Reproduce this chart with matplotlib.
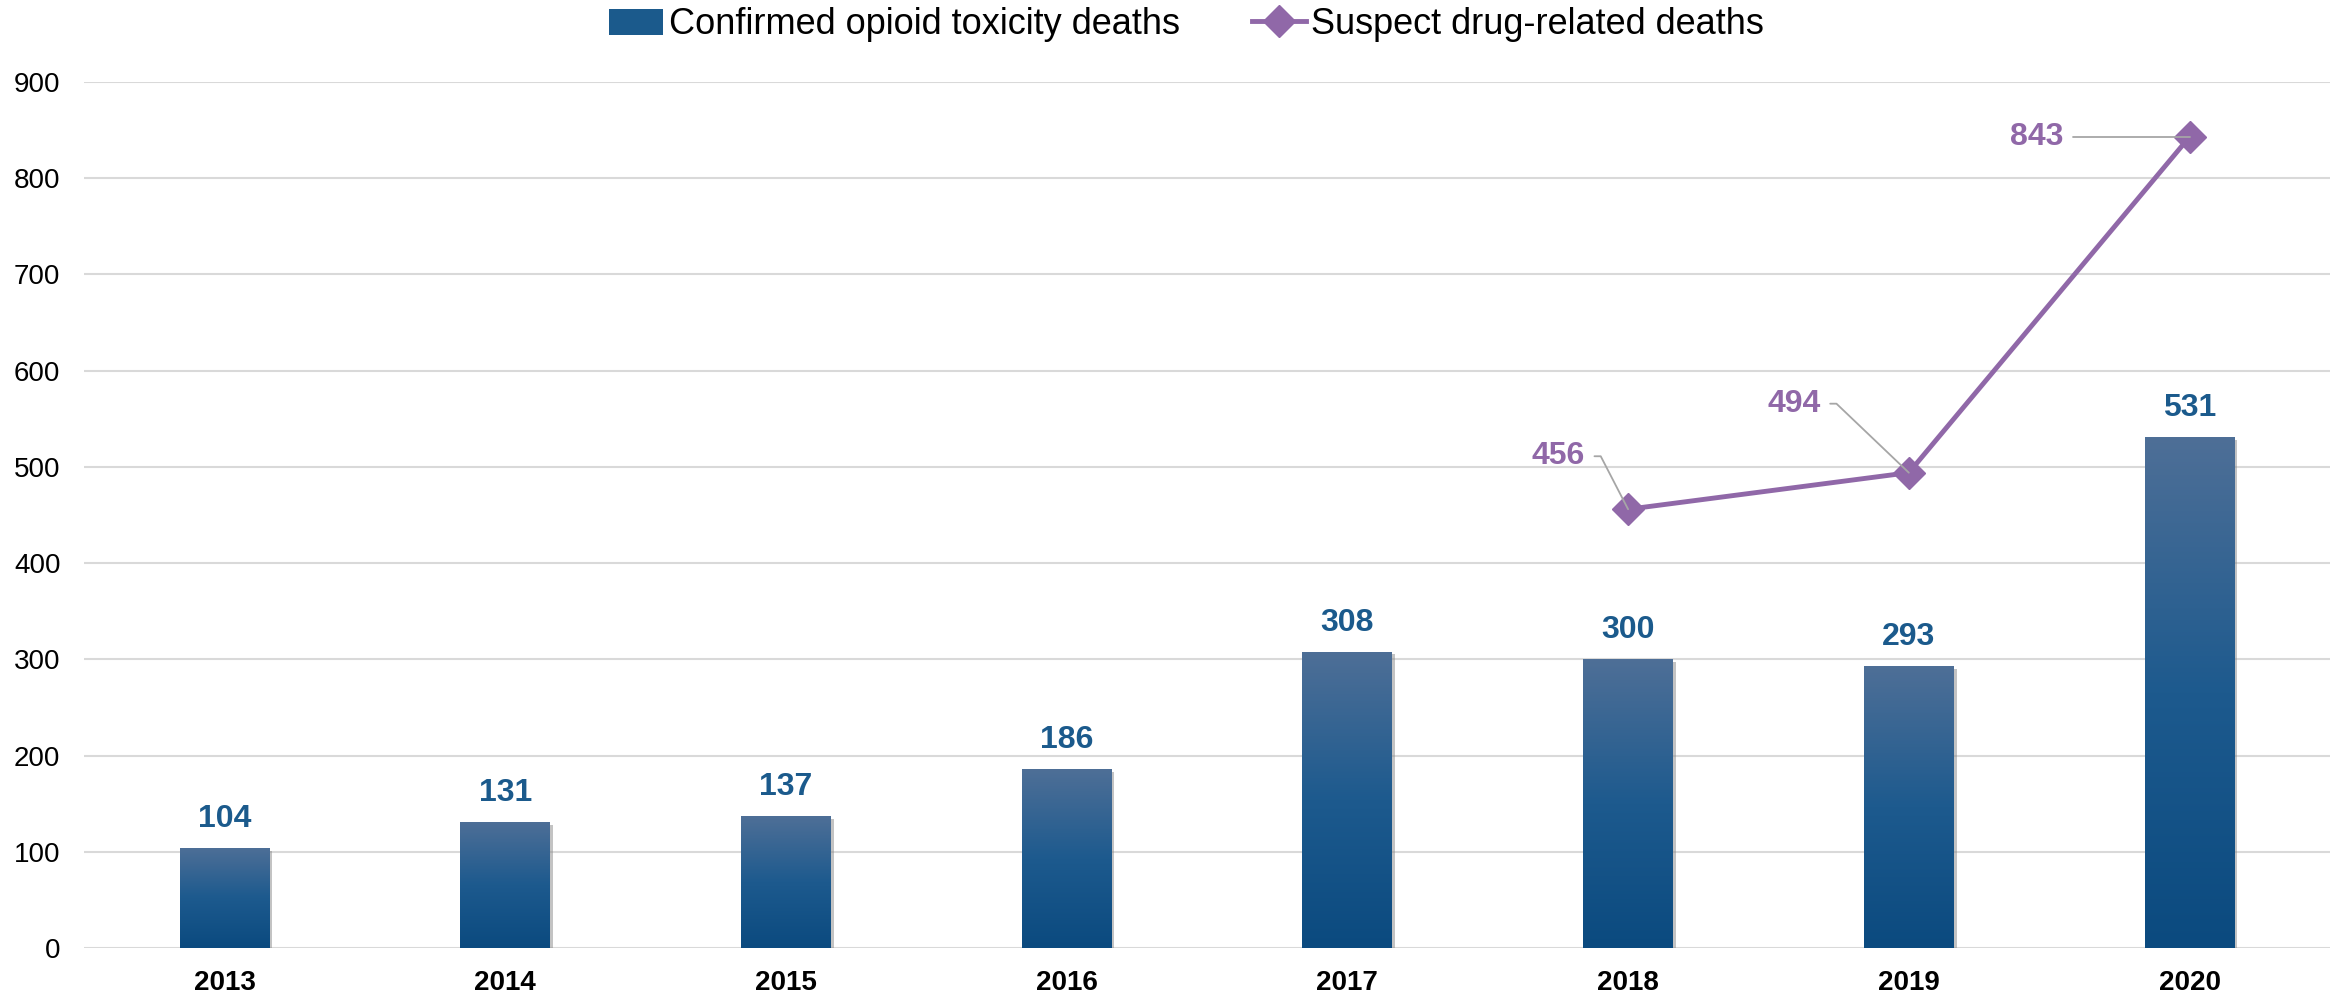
import matplotlib
matplotlib.use("Agg")
import matplotlib.pyplot as plt
import numpy as np
from matplotlib.colors import LinearSegmentedColormap
from matplotlib.lines import Line2D
from matplotlib.patches import Patch
import matplotlib.patheffects as pe

years = ["2013", "2014", "2015", "2016", "2017", "2018", "2019", "2020"]
confirmed = [104, 131, 137, 186, 308, 300, 293, 531]
suspect_years = ["2018", "2019", "2020"]
suspect = [456, 494, 843]
yticks = [0, 100, 200, 300, 400, 500, 600, 700, 800, 900]

plt.rcParams['font.family'] = ['Liberation Sans', 'DejaVu Sans']

BLUE_TXT = "#1b5a8c"
PURPLE = "#9068a8"
grad = LinearSegmentedColormap.from_list("g", ["#0b4a7f", "#1d5a8e", "#4e6f97"])

fig = plt.figure(figsize=(23.36, 9.93), dpi=100)
ax = fig.add_axes([0.036, 0.0453, 0.9614, 0.8721])

x = np.arange(len(years))
bars = ax.bar(x, confirmed, width=0.32, color="#1d5a8e", zorder=3,
              path_effects=[pe.SimplePatchShadow(offset=(2, -2), shadow_rgbFace="#888888", alpha=0.5), pe.Normal()])
gimg = np.linspace(0, 1, 256).reshape(-1, 1)
for b in bars:
    x0, y0 = b.get_x(), b.get_y()
    w, h = b.get_width(), b.get_height()
    im = ax.imshow(gimg, cmap=grad, origin="lower", aspect="auto",
                   extent=(x0, x0 + w, y0, y0 + h), zorder=3.1)
    im.set_clip_path(b)

for xi, v in zip(x, confirmed):
    ax.annotate(str(v), (xi, v), xytext=(0, 14), textcoords="offset pixels",
                ha="center", va="bottom", fontsize=23, fontweight="bold", color=BLUE_TXT, zorder=5)

sx = [years.index(y) for y in suspect_years]
ax.plot(sx, suspect, color=PURPLE, lw=3.5, marker="D", markersize=16, zorder=4)

offsets = [(-70, 53), (-115, 69), (-153, 0)]
for xi, v, (dx, dy) in zip(sx, suspect, offsets):
    ax.annotate(str(v), (xi, v), xytext=(dx, dy), textcoords="offset pixels",
                ha="center", va="center", fontsize=23, fontweight="bold", color=PURPLE, zorder=5,
                arrowprops=dict(arrowstyle="-", color="#a6a6a6", lw=1.3, shrinkA=5, shrinkB=0,
                                relpos=(1, 0.5),
                                connectionstyle="arc,angleA=0,armA=%d,angleB=0,armB=0,rad=0" % (16 if dy else 0)))

ax.set_xlim(-0.5, len(years) - 0.5)
ax.set_ylim(0, 900)
ax.set_yticks(yticks)
ax.set_yticklabels([str(t) for t in yticks], fontsize=20)
ax.set_xticks(x)
ax.set_xticklabels(years, fontsize=20, fontweight="bold")
ax.tick_params(axis="both", length=0)
ax.tick_params(axis="y", pad=17)
ax.tick_params(axis="x", pad=16)
ax.grid(axis="y", color="#d9d9d9", lw=1.5, zorder=0)
ax.set_axisbelow(True)
for s in ax.spines.values():
    s.set_visible(False)

handles = [Patch(facecolor="#1b5a8c", edgecolor="none"),
           Line2D([0], [0], color=PURPLE, lw=3.5, marker="D", markersize=16)]
fig.legend(handles, ["Confirmed opioid toxicity deaths", "Suspect drug-related deaths"],
           loc="center", bbox_to_anchor=(0.508, 0.975), ncol=2, frameon=False,
           fontsize=26, handlelength=1.5, handletextpad=0.15, columnspacing=2.0,
           handleheight=0.75)

fig.savefig("out.png", dpi=100)
